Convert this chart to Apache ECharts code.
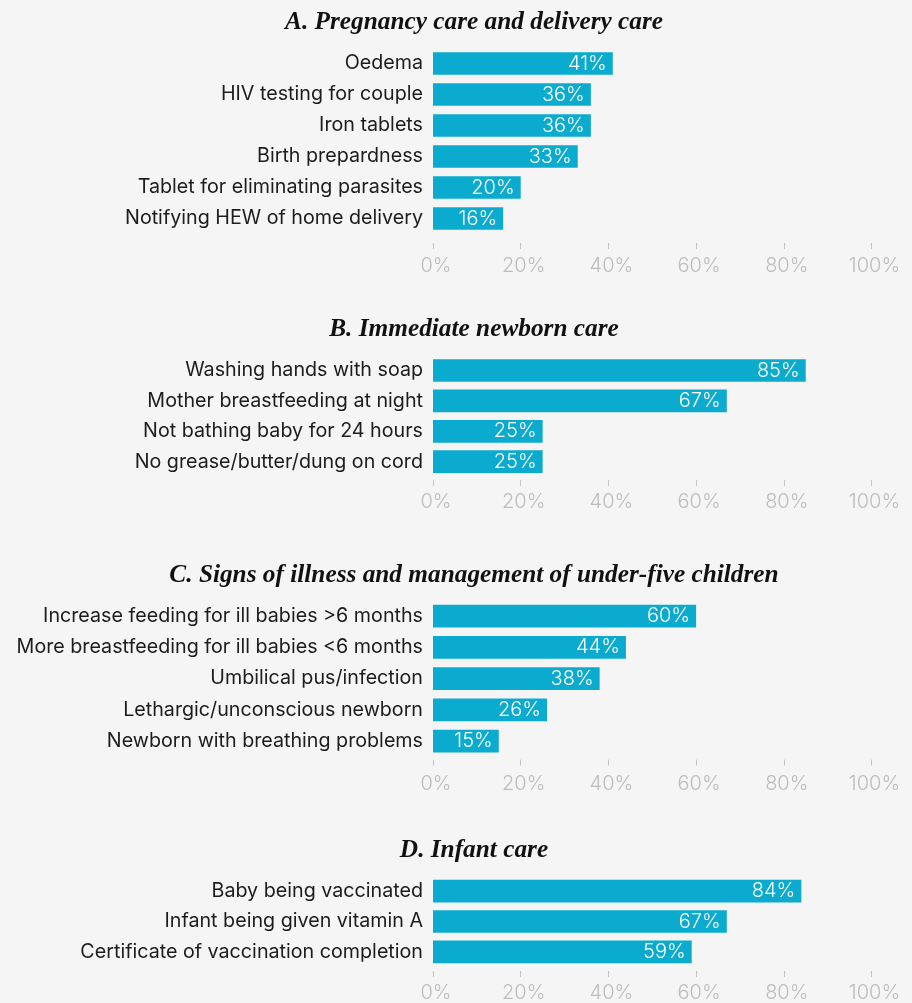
<!DOCTYPE html>
<html>
<head>
<meta charset="utf-8">
<script src="https://cdn.jsdelivr.net/npm/echarts@6/dist/echarts.min.js"></script>
<style>
  html, body { margin: 0; padding: 0; background: #f5f5f5; }
  #chart { width: 912px; height: 1003px; }
</style>
</head>
<body>
<div id="chart"></div>
<script>
// Panel titles
const titleA = 'A. Pregnancy care and delivery care';
const titleB = 'B. Immediate newborn care';
const titleC = 'C. Signs of illness and management of under-five children';
const titleD = 'D. Infant care';

// A. Pregnancy care and delivery care
const catsA = ['Oedema', 'HIV testing for couple', 'Iron tablets', 'Birth prepardness',
  'Tablet for eliminating parasites', 'Notifying HEW of home delivery'];
const valsA = [41, 36, 36, 33, 20, 16];

// B. Immediate newborn care
const catsB = ['Washing hands with soap', 'Mother breastfeeding at night',
  'Not bathing baby for 24 hours', 'No grease/butter/dung on cord'];
const valsB = [85, 67, 25, 25];

// C. Signs of illness and management of under-five children
const catsC = ['Increase feeding for ill babies >6 months', 'More breastfeeding for ill babies <6 months',
  'Umbilical pus/infection', 'Lethargic/unconscious newborn', 'Newborn with breathing problems'];
const valsC = [60, 44, 38, 26, 15];

// D. Infant care
const catsD = ['Baby being vaccinated', 'Infant being given vitamin A', 'Certificate of vaccination completion'];
const valsD = [84, 67, 59];

// Value-axis ticks
const xTicks = [0, 20, 40, 60, 80, 100];

// Layout of each panel: title position, plot top, row pitch, axis offset and label margin
const panels = [
  { title: titleA, cats: catsA, vals: valsA, titleTop: 5,   top: 48,    row: 31,    axisGap: 9, labelMargin: 13 },
  { title: titleB, cats: catsB, vals: valsB, titleTop: 312, top: 355.3, row: 30.4,  axisGap: 3, labelMargin: 12 },
  { title: titleC, cats: catsC, vals: valsC, titleTop: 558, top: 600.4, row: 31.25, axisGap: 3, labelMargin: 14 },
  { title: titleD, cats: catsD, vals: valsD, titleTop: 833, top: 876,   row: 30.5,  axisGap: 4, labelMargin: 12 }
];

const BAR_COLOR = '#0aabcf';
const sansFont = 'Inter, "Noto Sans", sans-serif';

const option = {
  backgroundColor: '#f5f5f5',
  animation: false,
  title: [],
  grid: [],
  xAxis: [],
  yAxis: [],
  series: []
};

panels.forEach((p, i) => {
  option.title.push({
    text: p.title,
    left: 469,
    top: p.titleTop,
    textAlign: 'center',
    textStyle: {
      fontFamily: '"Liberation Serif", "DejaVu Serif", serif',
      fontStyle: 'italic',
      fontWeight: 'bold',
      fontSize: 25.3,
      color: '#111'
    }
  });
  option.grid.push({
    left: 433,
    width: 438.5,
    top: p.top,
    height: p.cats.length * p.row,
    containLabel: false
  });
  option.xAxis.push({
    gridIndex: i,
    type: 'value',
    min: xTicks[0],
    max: xTicks[xTicks.length - 1],
    interval: xTicks[1] - xTicks[0],
    offset: p.axisGap,
    axisLine: { show: false },
    axisTick: { show: true, length: 6, lineStyle: { color: '#c4c4c4', width: 1 } },
    splitLine: { show: false },
    axisLabel: {
      margin: p.labelMargin,
      formatter: v => v + '%',
      color: '#bdbdbd',
      fontSize: 20,
      fontWeight: 300,
      padding: [0, 0, 0, 6],
      fontFamily: sansFont
    }
  });
  option.yAxis.push({
    gridIndex: i,
    type: 'category',
    data: p.cats,
    inverse: true,
    axisLine: { show: false },
    axisTick: { show: false },
    axisLabel: {
      margin: 10,
      color: '#1c1c1c',
      fontSize: 19.7,
      fontFamily: sansFont
    }
  });
  option.series.push({
    type: 'bar',
    xAxisIndex: i,
    yAxisIndex: i,
    data: p.vals,
    barWidth: 22.7,
    itemStyle: { color: BAR_COLOR },
    label: {
      show: true,
      position: 'insideRight',
      distance: 6,
      formatter: d => d.value + '%',
      color: '#ffffff',
      fontSize: 20,
      fontWeight: 300,
      fontFamily: sansFont
    }
  });
});

const chart = echarts.init(document.getElementById('chart'), null, { renderer: 'canvas' });
chart.setOption(option);
</script>
</body>
</html>
